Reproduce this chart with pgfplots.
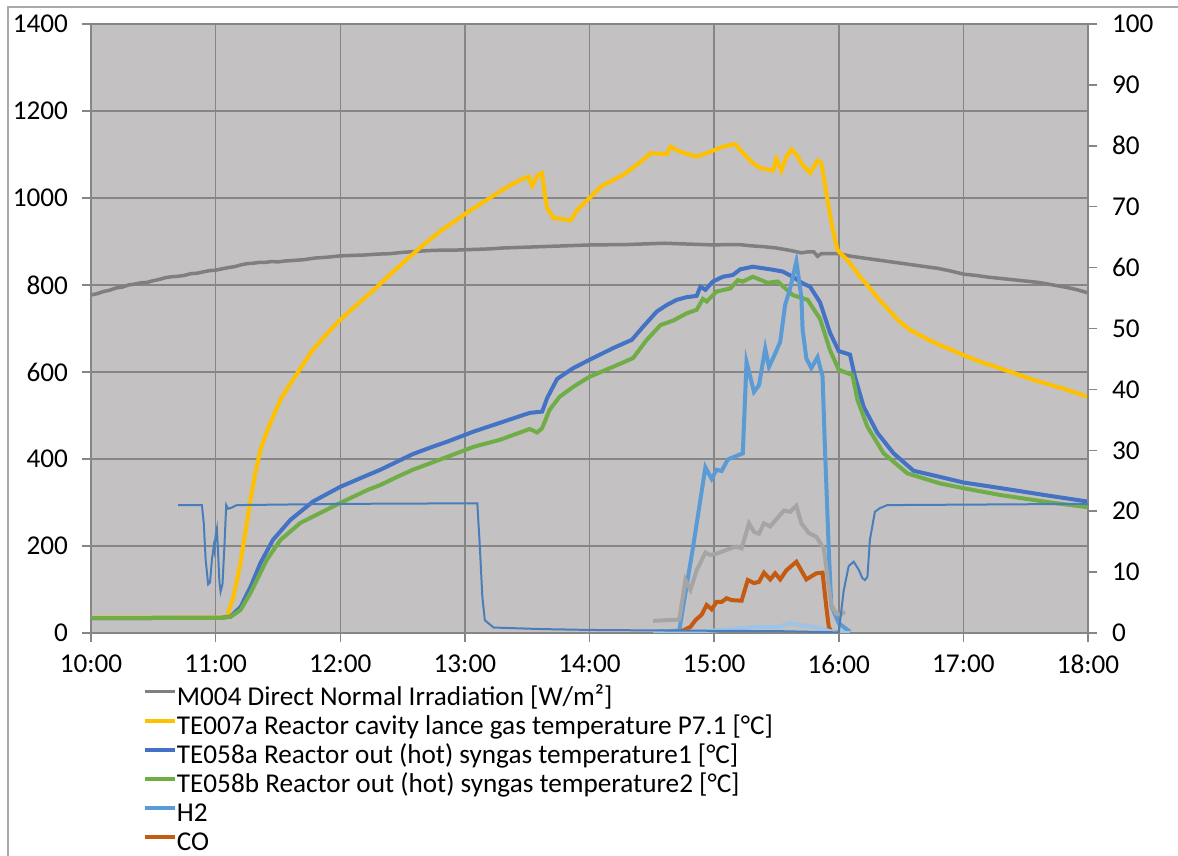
\documentclass[border=0pt]{standalone}
\usepackage{pgfplots}
\pgfplotsset{compat=1.18}
\usepackage{fontspec}
\setmainfont{Carlito}
\definecolor{bgc}{RGB}{195,193,194}
\definecolor{gridc}{RGB}{134,134,134}
\definecolor{frc}{RGB}{170,170,170}
\definecolor{cM}{RGB}{127,127,127}
\definecolor{cY}{RGB}{255,192,0}
\definecolor{cB}{RGB}{68,114,196}
\definecolor{cG}{RGB}{112,173,71}
\definecolor{cH}{RGB}{91,155,213}
\definecolor{cCO}{RGB}{197,90,17}
\definecolor{cOO}{RGB}{74,126,187}
\definecolor{cCOO}{RGB}{165,165,165}
\definecolor{cCH}{RGB}{157,195,230}
\begin{document}
\begin{tikzpicture}
\path[use as bounding box] (0,0) rectangle (589pt,428pt);
\draw[frc, line width=0.75pt] (4pt,0pt) -- (4pt,424.5pt) -- (589pt,424.5pt);
\pgfplotsset{
  base/.style={
    scale only axis, width=498.5pt, height=304.5pt,
    at={(45.5pt,111.5pt)}, anchor=south west,
    xmin=10, xmax=18,
    tick align=outside, major tick length=4.5pt,
    tick style={gridc, line width=0.75pt},
    axis line style={gridc, line width=0.75pt, -},
    ticklabel style={font=\fontsize{13.6}{16}\selectfont},
    /pgf/number format/assume math mode=true,
    /pgf/number format/1000 sep={},
  }
}
\begin{axis}[base,
  axis x line*=bottom, axis y line*=left,
  ymin=0, ymax=1400, ytick={0,200,...,1400},
  xtick={10,11,...,18},
  xticklabels={10:00,11:00,12:00,13:00,14:00,15:00,16:00,17:00,18:00},
  yticklabel style={xshift=-3.5pt},
  xticklabel style={yshift=-3pt},
  grid=major, major grid style={gridc, line width=0.75pt},
  axis background/.style={fill=bgc},
]
% M004 Direct Normal Irradiation
\addplot[cM, line width=1.75pt] coordinates {
(10.00,777) (10.05,780) (10.10,785) (10.15,788) (10.20,793) (10.25,795) (10.30,800) (10.35,802) (10.40,805) (10.45,806) (10.50,810) (10.55,813) (10.60,817) (10.65,819) (10.70,820) (10.75,822) (10.80,826) (10.85,827) (10.90,830) (10.95,833) (11.00,834) (11.05,837) (11.10,840) (11.15,842) (11.20,846) (11.25,849) (11.30,850) (11.35,852) (11.40,852) (11.45,854) (11.50,853) (11.55,855) (11.60,856) (11.65,857) (11.70,858) (11.80,862) (11.90,864) (12.00,867) (12.10,868) (12.20,869) (12.30,871) (12.40,872) (12.50,875) (12.60,877) (12.70,879) (12.80,880) (12.90,880) (13.00,881) (13.10,882) (13.20,883) (13.30,885) (13.40,886) (13.50,887) (13.60,888) (13.70,889) (13.80,890) (13.90,891) (14.00,892) (14.10,892) (14.20,893) (14.30,893) (14.40,894) (14.50,895) (14.60,896) (14.70,895) (14.80,894) (14.90,893) (15.00,892) (15.10,893) (15.20,893) (15.30,890) (15.40,888) (15.50,885) (15.60,880) (15.70,874) (15.75,876) (15.80,876) (15.83,866) (15.86,872) (15.90,872) (16.00,872) (16.05,869) (16.10,866) (16.20,862) (16.30,858) (16.40,854) (16.50,850) (16.60,846) (16.70,842) (16.80,838) (16.90,832) (17.00,825) (17.10,822) (17.20,818) (17.30,815) (17.40,812) (17.50,809) (17.60,806) (17.70,801) (17.80,796) (17.90,790) (18.00,782)
};
% TE007a
\addplot[cY, line width=2pt] coordinates {
(10.00,35) (11.05,36) (11.09,37) (11.14,80) (11.20,161) (11.24,235) (11.28,306) (11.32,370) (11.36,421) (11.40,455) (11.44,483) (11.48,510) (11.52,536) (11.57,560) (11.62,582) (11.70,617) (11.78,651) (11.89,687) (12.00,720) (12.14,756) (12.27,789) (12.43,832) (12.59,873) (12.70,900) (12.80,923) (12.90,943) (13.00,963) (13.10,982) (13.20,1000) (13.32,1022) (13.44,1041) (13.51,1049) (13.54,1028) (13.58,1051) (13.62,1057) (13.64,1010) (13.66,977) (13.71,954) (13.85,949) (13.90,972) (14.00,1000) (14.09,1026) (14.18,1040) (14.27,1053) (14.34,1068) (14.41,1083) (14.49,1103) (14.62,1101) (14.65,1118) (14.73,1106) (14.86,1095) (14.94,1103) (15.07,1118) (15.17,1124) (15.21,1110) (15.31,1080) (15.37,1069) (15.47,1063) (15.50,1090) (15.54,1063) (15.58,1095) (15.62,1112) (15.67,1095) (15.71,1076) (15.77,1058) (15.83,1086) (15.86,1080) (15.91,995) (15.95,930) (15.99,880) (16.07,857) (16.13,835) (16.17,819) (16.24,796) (16.32,768) (16.40,743) (16.48,718) (16.57,697) (16.70,677) (16.81,662) (17.00,639) (17.15,622) (17.30,608) (17.56,582) (17.80,562) (18.00,543)
};
% TE058a
\addplot[cB, line width=2pt] coordinates {
(10.00,34) (11.05,35) (11.12,38) (11.20,60) (11.28,106) (11.36,161) (11.46,214) (11.60,260) (11.78,302) (12.00,336) (12.22,363) (12.32,375) (12.45,393) (12.58,411) (12.72,426) (12.86,440) (13.07,463) (13.28,483) (13.52,506) (13.62,509) (13.66,540) (13.74,584) (13.87,609) (14.00,628) (14.19,655) (14.34,674) (14.43,704) (14.54,739) (14.62,754) (14.70,766) (14.78,772) (14.86,775) (14.89,796) (14.93,789) (14.99,808) (15.07,819) (15.15,823) (15.21,836) (15.31,842) (15.45,836) (15.55,831) (15.63,819) (15.71,804) (15.77,796) (15.85,760) (15.93,690) (16.00,648) (16.09,640) (16.13,589) (16.20,520) (16.31,460) (16.44,413) (16.60,373) (16.81,359) (17.00,346) (17.30,333) (17.70,315) (18.00,302)
};
% TE058b
\addplot[cG, line width=2pt] coordinates {
(10.00,34) (11.05,35) (11.12,37) (11.20,53) (11.28,92) (11.41,168) (11.52,214) (11.68,253) (12.00,299) (12.22,329) (12.32,340) (12.45,358) (12.58,375) (12.72,390) (12.86,405) (13.07,428) (13.28,444) (13.52,469) (13.58,461) (13.62,471) (13.68,513) (13.76,543) (13.87,566) (14.00,589) (14.19,612) (14.35,632) (14.46,674) (14.57,708) (14.67,718) (14.78,735) (14.86,743) (14.91,768) (14.94,762) (15.02,785) (15.13,792) (15.19,811) (15.23,808) (15.31,819) (15.43,805) (15.51,808) (15.63,777) (15.75,766) (15.85,722) (15.93,650) (16.00,605) (16.11,593) (16.15,536) (16.23,474) (16.36,413) (16.55,367) (16.81,344) (17.00,333) (17.30,317) (17.70,300) (18.00,289)
};
\end{axis}
\begin{axis}[base,
  axis x line=none, axis y line*=right,
  ymin=0, ymax=100, ytick={0,10,...,100},
  yticklabel style={xshift=4pt},
  legend style={at={(axis description cs:0.0521,-0.0867)}, anchor=north west,
    draw=none, fill=none, inner sep=0pt, outer sep=0pt,
    row sep=0pt, column sep=0pt,
    font=\fontsize{13.6}{16}\selectfont,
    nodes={inner sep=0pt, text height=10pt, text depth=4.5pt}},
  legend cell align=left,
  legend image code/.code={\draw[#1] (0pt,4.3pt) -- (15pt,4.3pt);},
]
\addlegendimage{cM, line width=1.75pt}
\addlegendentry{M004 Direct Normal Irradiation [W/m²]}
\addlegendimage{cY, line width=2pt}
\addlegendentry{TE007a Reactor cavity lance gas temperature P7.1 [°C]}
\addlegendimage{cB, line width=2pt}
\addlegendentry{TE058a Reactor out (hot) syngas temperature1 [°C]}
\addlegendimage{cG, line width=2pt}
\addlegendentry{TE058b Reactor out (hot) syngas temperature2 [°C]}
% H2
\addplot[cH, line width=2pt] coordinates {
(14.55,0.2) (14.72,0.4) (14.83,14.0) (14.93,27.2) (14.98,25.3) (15.02,26.8) (15.06,26.6) (15.11,28.5) (15.23,29.5) (15.26,44.5) (15.32,39.6) (15.36,40.7) (15.41,46.7) (15.44,43.7) (15.49,45.9) (15.53,47.8) (15.57,53.9) (15.61,56.6) (15.66,61.0) (15.70,55.2) (15.71,49.8) (15.74,45.1) (15.78,43.5) (15.83,45.3) (15.87,42.1) (15.89,30.0) (15.92,13.6) (15.94,4.5) (16.00,1.6) (16.09,0.2)
};
\addlegendentry{H2}
% CO
\addplot[cCO, line width=2pt] coordinates {
(14.55,0.1) (14.73,0.2) (14.81,1.0) (14.85,2.1) (14.90,3.0) (14.94,4.6) (14.98,3.9) (15.02,5.1) (15.06,5.1) (15.10,5.7) (15.14,5.4) (15.22,5.3) (15.27,8.7) (15.32,8.2) (15.36,8.4) (15.40,9.9) (15.45,8.8) (15.49,9.8) (15.53,8.8) (15.58,10.3) (15.66,11.7) (15.74,8.8) (15.82,9.8) (15.87,9.9) (15.90,4.3) (15.92,1.0) (15.94,0.2) (16.01,0.0)
};
\addlegendentry{CO}
% CO2
\addplot[cCOO, line width=2pt, forget plot] coordinates {
(14.51,2.0) (14.72,2.2) (14.77,8.7) (14.81,7.1) (14.86,10.3) (14.93,13.2) (14.97,12.8) (15.03,13.1) (15.07,13.4) (15.13,13.9) (15.18,14.2) (15.22,13.9) (15.28,18.0) (15.32,16.6) (15.36,16.3) (15.40,18.0) (15.45,17.5) (15.50,18.7) (15.56,20.1) (15.61,19.9) (15.66,20.9) (15.70,18.0) (15.76,16.4) (15.82,15.8) (15.88,13.9) (15.92,7.6) (15.94,4.6) (15.98,3.2) (16.01,3.0) (16.05,3.5)
};
% CH4
\addplot[cCH, line width=2pt, forget plot] coordinates {
(14.51,0.0) (14.83,0.2) (14.99,0.4) (15.29,0.9) (15.37,1.0) (15.51,1.0) (15.61,1.6) (15.69,1.3) (15.83,0.9) (15.91,0.4) (15.99,0.0) (16.09,0.0)
};
% O2
\addplot[cOO, line width=1pt, forget plot] coordinates {
(10.70,21.0) (10.89,21.0) (10.905,18) (10.92,12) (10.94,8) (10.955,8.3) (10.97,12) (10.985,14.2) (10.99,13.6) (11.00,16) (11.01,17.1) (11.02,13) (11.03,8.5) (11.04,6.8) (11.055,8) (11.07,14) (11.085,21.0) (11.10,20.4) (11.13,20.6) (11.17,21.0) (12.00,21.2) (13.10,21.3) (13.12,14.2) (13.14,6.0) (13.16,2.1) (13.23,0.9) (13.60,0.65) (14.00,0.5) (14.67,0.4) (15.53,0.3) (16.00,0.1) (16.04,7.0) (16.08,11.0) (16.12,11.7) (16.16,10.4) (16.19,9.0) (16.21,8.7) (16.23,9.2) (16.25,15.3) (16.29,19.9) (16.33,20.5) (16.39,21.0) (18.00,21.2)
};
\end{axis}
\end{tikzpicture}
\end{document}
